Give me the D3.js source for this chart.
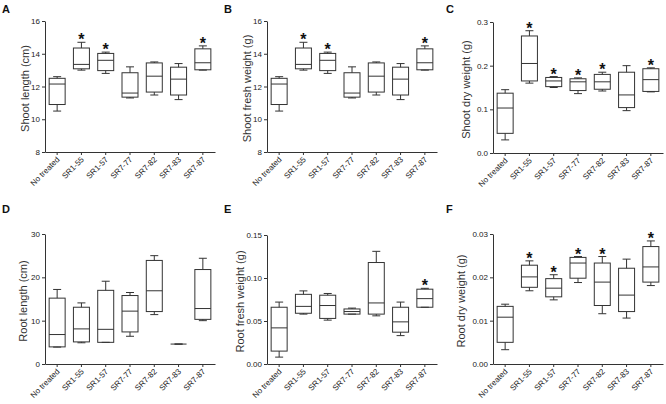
<!DOCTYPE html>
<html><head><meta charset="utf-8">
<script src="https://cdn.jsdelivr.net/npm/d3@7"></script>
<style>
body{margin:0;background:#fff;}
svg{display:block;font-family:"Liberation Sans",Arial,sans-serif;}
</style></head>
<body><svg id="c" width="666" height="404"></svg>
<script>
// ---- data: [whisker low, Q1, median, Q3, whisker high] ----
const categories = ["No treated","SR1-55","SR1-57","SR7-77","SR7-82","SR7-83","SR7-87"];

const shootLength = [[10.5,10.9,12.15,12.5,12.6],[13.0,13.08,13.35,14.35,14.7],[12.8,12.97,13.6,14.02,14.1],
  [11.3,11.35,11.6,12.84,13.2],[11.48,11.66,12.63,13.44,13.5],[11.2,11.48,12.45,13.18,13.4],[13.0,13.02,13.45,14.3,14.48]];
const shootLengthStars = [0,1,1,0,0,0,1];
const shootLengthTicks = [8,10,12,14,16];

const shootFresh = [[10.5,10.9,12.15,12.5,12.6],[13.0,13.08,13.35,14.35,14.7],[12.8,12.97,13.6,14.02,14.1],
  [11.3,11.35,11.6,12.84,13.2],[11.48,11.66,12.63,13.44,13.5],[11.2,11.48,12.45,13.18,13.4],[13.0,13.02,13.45,14.3,14.48]];
const shootFreshStars = [0,1,1,0,0,0,1];
const shootFreshTicks = [8,10,12,14,16];

const shootDry = [[0.03,0.045,0.103,0.137,0.145],[0.16,0.165,0.205,0.268,0.28],[0.15,0.152,0.165,0.173,0.175],
  [0.136,0.143,0.163,0.17,0.172],[0.142,0.146,0.163,0.18,0.185],[0.097,0.104,0.133,0.185,0.2],[0.14,0.141,0.168,0.193,0.195]];
const shootDryStars = [0,1,1,1,1,0,1];
const shootDryTicks = [0,0.1,0.2,0.3];

const rootLength = [[3.9,3.95,6.8,15.2,17.2],[4.9,5.1,8.1,13.1,14.1],[5.0,5.0,8.0,17.0,19.1],
  [6.4,7.4,12.2,15.8,16.5],[11.4,12.1,16.9,23.9,25.0],[4.6,4.6,4.6,4.6,4.6],[10.0,10.3,12.8,21.8,24.4]];
const rootLengthStars = [0,0,0,0,0,0,0];
const rootLengthTicks = [0,10,20,30];

const rootFresh = [[0.008,0.015,0.042,0.066,0.072],[0.058,0.059,0.067,0.081,0.085],[0.051,0.053,0.068,0.08,0.082],
  [0.058,0.058,0.061,0.064,0.065],[0.056,0.058,0.071,0.118,0.131],[0.033,0.037,0.049,0.066,0.072],[0.066,0.066,0.076,0.087,0.088]];
const rootFreshStars = [0,0,0,0,0,0,1];
const rootFreshTicks = [0,0.05,0.10,0.15];

const rootDry = [[0.0033,0.005,0.0108,0.0133,0.0138],[0.0169,0.0177,0.0201,0.0228,0.0238],[0.0148,0.0155,0.0175,0.0197,0.0206],
  [0.0188,0.0198,0.0233,0.0246,0.0248],[0.0116,0.0135,0.0189,0.0233,0.0248],[0.0106,0.0121,0.0159,0.0221,0.0242],[0.0181,0.0189,0.0224,0.0271,0.0284]];
const rootDryStars = [0,1,1,1,1,0,1];
const rootDryTicks = [0,0.01,0.02,0.03];

// ---- layout ----
const panels = [
  {tag:"A", title:"Shoot length (cm)", data:shootLength, stars:shootLengthStars, ticks:shootLengthTicks, fmt:d3.format("d"), ox:0, oy:0, ax:45, top:21, bot:152, lx:25},
  {tag:"B", title:"Shoot fresh weight (g)", data:shootFresh, stars:shootFreshStars, ticks:shootFreshTicks, fmt:d3.format("d"), ox:222, oy:0, ax:267, top:21, bot:152, lx:247},
  {tag:"C", title:"Shoot dry weight (g)", data:shootDry, stars:shootDryStars, ticks:shootDryTicks, fmt:d3.format(".1f"), ox:444, oy:0, ax:493, top:22, bot:153, lx:466},
  {tag:"D", title:"Root length (cm)", data:rootLength, stars:rootLengthStars, ticks:rootLengthTicks, fmt:d3.format("d"), ox:0, oy:200, ax:45, top:234, bot:364, lx:23},
  {tag:"E", title:"Root fresh weight (g)", data:rootFresh, stars:rootFreshStars, ticks:rootFreshTicks, fmt:d3.format(".2f"), ox:222, oy:200, ax:267, top:235, bot:364, lx:240},
  {tag:"F", title:"Root dry weight (g)", data:rootDry, stars:rootDryStars, ticks:rootDryTicks, fmt:d3.format(".2f"), ox:444, oy:200, ax:493, top:234, bot:364, lx:461}
];

const svg = d3.select("#c");
const ink = "#333";
const boxW = 16, capW = 8;

panels.forEach(p => {
  const g = svg.append("g");
  const tks = p.ticks;
  const y = d3.scaleLinear().domain([tks[0], tks[tks.length-1]]).range([p.bot, p.top]);
  const x = d3.scaleBand().domain(categories).range([p.ax, p.ax + 170]);

  g.append("text").attr("x", p.ox + 2).attr("y", p.oy + 13).attr("font-size", 11).attr("font-weight", "bold")
    .attr("fill", "#111").text(p.tag);

  // y axis
  const ya = g.append("g").attr("transform", `translate(${p.ax},0)`)
    .call(d3.axisLeft(y).tickValues(tks).tickFormat(p.fmt).tickSize(3).tickPadding(2).tickSizeOuter(0));
  ya.select(".domain").attr("stroke", ink);
  ya.selectAll(".tick line").attr("stroke", ink);
  ya.selectAll(".tick text").attr("font-size", 8).attr("fill", "#222").attr("font-family", "Liberation Sans, Arial, sans-serif");

  // x axis
  const xa = g.append("g").attr("transform", `translate(0,${p.bot})`)
    .call(d3.axisBottom(x).tickSize(3).tickSizeOuter(0).tickFormat(""));
  xa.select(".domain").attr("stroke", ink);
  xa.selectAll(".tick line").attr("stroke", ink);
  categories.forEach(c => {
    const cx = x(c) + x.bandwidth()/2;
    g.append("text").attr("transform", `translate(${cx + 3},${p.bot + 8}) rotate(-45)`)
      .attr("text-anchor", "end").attr("font-size", 8).attr("fill", "#222").text(c);
  });

  // y title
  g.append("text").attr("transform", `translate(${p.lx},${(p.top + p.bot)/2 + 2}) rotate(-90)`)
    .attr("text-anchor", "middle").attr("dominant-baseline", "central").attr("font-size", 11).attr("fill", "#333").text(p.title);

  // boxes
  p.data.forEach((d, i) => {
    const cx = x(categories[i]) + x.bandwidth()/2;
    const [lo, q1, med, q3, hi] = d;
    const bg = g.append("g").attr("stroke", ink).attr("stroke-width", 1).attr("fill", "none");
    bg.append("line").attr("x1", cx).attr("x2", cx).attr("y1", y(hi)).attr("y2", y(q3));
    bg.append("line").attr("x1", cx).attr("x2", cx).attr("y1", y(q1)).attr("y2", y(lo));
    bg.append("line").attr("x1", cx - capW/2).attr("x2", cx + capW/2).attr("y1", y(hi)).attr("y2", y(hi));
    bg.append("line").attr("x1", cx - capW/2).attr("x2", cx + capW/2).attr("y1", y(lo)).attr("y2", y(lo));
    bg.append("rect").attr("x", cx - boxW/2).attr("width", boxW).attr("y", y(q3)).attr("height", Math.max(0, y(q1) - y(q3)));
    bg.append("line").attr("x1", cx - boxW/2).attr("x2", cx + boxW/2).attr("y1", y(med)).attr("y2", y(med));
    if (p.stars[i]) {
      g.append("text").attr("x", cx).attr("y", y(hi) + 3).attr("text-anchor", "middle")
        .attr("font-size", 16).attr("font-weight", "bold").attr("fill", "#111").text("*");
    }
  });
});
</script></body></html>
